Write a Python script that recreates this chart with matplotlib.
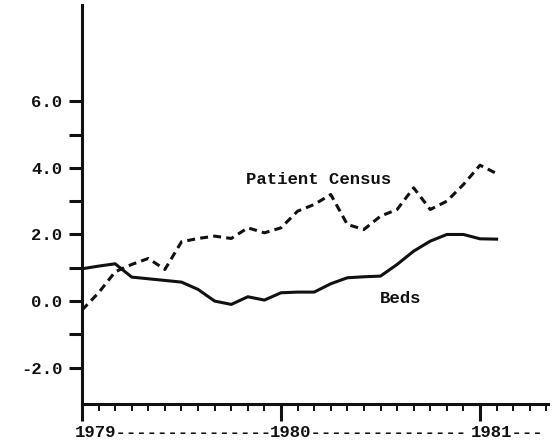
import matplotlib
matplotlib.use("Agg")
import matplotlib.pyplot as plt
import matplotlib.transforms as mtransforms

# ---- data (monthly, Jan 1979 = 0) ----
months = list(range(26))
beds = [0.97, 1.05, 1.12, 0.72, 0.67, 0.62, 0.57, 0.35, 0.0, -0.1,
        0.13, 0.03, 0.25, 0.27, 0.27, 0.52, 0.70, 0.73, 0.75, 1.10,
        1.50, 1.80, 2.00, 2.00, 1.87, 1.86]
census = [-0.27, 0.25, 0.88, 1.10, 1.28, 0.95, 1.78, 1.88, 1.95, 1.88,
          2.20, 2.05, 2.20, 2.70, 2.90, 3.20, 2.30, 2.15, 2.55, 2.75,
          3.40, 2.75, 3.00, 3.50, 4.08, 3.83]

y_major = [-2, 0, 2, 4, 6]
y_major_labels = ["-2.0", "0.0", "2.0", "4.0", "6.0"]
y_minor = [-1, 1, 3, 5]
x_major = [0, 12, 24]
x_minor = list(range(29))
x_labels = ["1979---------------", "1980---------------", "1981---"]
series_labels = ["Patient Census", "Beds"]

FONT = dict(family="Liberation Mono", weight="bold", size=12.4, color="#111111")

fig = plt.figure(figsize=(5.55, 4.46), dpi=100)
ax = fig.add_axes([81.5 / 555, 42 / 446, (548 - 81.5) / 555, (404 - 5) / 446])

ax.plot(months, beds, color="#111111", lw=2.2, solid_joinstyle="round")
ax.plot(months, census, color="#111111", lw=2.2, dashes=(2.6, 1.7))

ax.set_xlim(-0.03, 28.1)
ax.set_ylim(-3.09, 8.89)

for s in ["top", "right"]:
    ax.spines[s].set_visible(False)
for s in ["left", "bottom"]:
    ax.spines[s].set_linewidth(2.2)
    ax.spines[s].set_color("#111111")

ax.set_yticks(y_major)
ax.set_yticklabels(y_major_labels, fontdict=FONT)
ax.set_yticks(y_minor, minor=True)
ax.tick_params(axis="y", which="both", direction="out", length=9.2, width=2.2,
               pad=4.4, color="#111111")

ax.set_xticks(x_major)
ax.set_xticklabels([])
ax.set_xticks(x_minor, minor=True)
ax.tick_params(axis="x", which="major", direction="out", length=12.5, width=2.2, color="#111111")
ax.tick_params(axis="x", which="minor", direction="out", length=5, width=1.4, color="#111111")

trans = mtransforms.blended_transform_factory(ax.transData, ax.transAxes)
offsets = [-7, -11, -9.5]
for xm, lab, off in zip(x_major, x_labels, offsets):
    t = trans + mtransforms.ScaledTranslation(off / 100, 0, fig.dpi_scale_trans)
    ax.text(xm, -0.0702, lab, transform=t, ha="left", va="center", clip_on=False, **FONT)

# series labels
ax.text(9.9, 3.66, series_labels[0], ha="left", va="center", **FONT)
ax.text(17.95, 0.08, series_labels[1], ha="left", va="center", **FONT)

fig.savefig("out.png", dpi=100, facecolor="white")
